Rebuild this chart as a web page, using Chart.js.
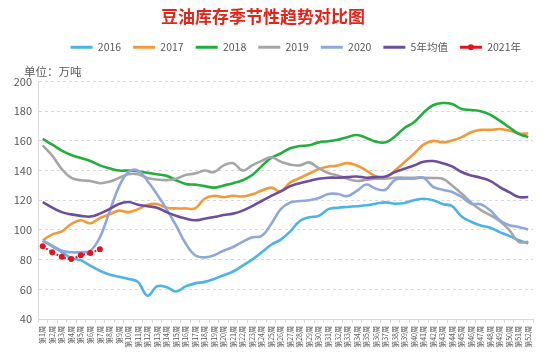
<!DOCTYPE html>
<html>
<head>
<meta charset="utf-8">
<script src="https://cdn.jsdelivr.net/npm/chart.js@4.4.1/dist/chart.umd.min.js"></script>
<style>
  html, body { margin: 0; padding: 0; background: #fff; }
  #wrap { width: 550px; height: 362px; position: relative; }
</style>
</head>
<body>
<div id="wrap"><canvas id="chart"></canvas></div>
<script>
const FONT = '"Noto Sans CJK SC", "Noto Sans", sans-serif';

const weeks = [
  "第1周", "第2周", "第3周", "第4周", "第5周", "第6周", "第7周", "第8周", "第9周", "第10周",
  "第11周", "第12周", "第13周", "第14周", "第15周", "第16周", "第17周", "第18周", "第19周", "第20周",
  "第21周", "第22周", "第23周", "第24周", "第25周", "第26周", "第27周", "第28周", "第29周", "第30周",
  "第31周", "第32周", "第33周", "第34周", "第35周", "第36周", "第37周", "第38周", "第39周", "第40周",
  "第41周", "第42周", "第43周", "第44周", "第45周", "第46周", "第47周", "第48周", "第49周", "第50周",
  "第51周", "第52周"
];

const y2016 = [
  92.8, 89, 85, 81, 79.5, 76, 72.5, 70, 68.5, 67,
  65, 55.7, 62, 61.5, 58.5, 62, 64, 65, 67, 69.5,
  72, 76, 80, 85, 90, 93.5, 99, 106, 108.5, 109.5,
  114, 115, 115.5, 116, 116.6, 117.7, 118.6, 117.7, 118.2, 120,
  121, 120, 117.5, 116, 109, 105.5, 103, 101.5, 98.5, 96,
  93, 91
];

const y2017 = [
  93, 97, 99, 104, 106.5, 104.5, 108, 110.5, 113, 112,
  114, 117, 117.5, 115, 114.5, 114.5, 114.5, 121, 123, 122,
  123, 122.5, 124, 126.5, 128.5, 126, 132, 135, 138, 141,
  142.8, 143.4, 145, 143.4, 140, 136, 135.2, 140, 145.7, 151.3,
  157.5, 160, 159, 160.2, 162.5, 165.8, 167.4, 167.4, 168, 167,
  165, 165
];

const y2018 = [
  161.3, 157.5, 153.5, 150.5, 148.5, 146.5, 143.5, 141.5, 140, 140,
  139.5, 138.5, 137.5, 136.5, 133.5, 131, 130.5, 129.5, 128.5, 130,
  131.5, 133.5, 137, 143, 148.5, 151.5, 155, 156.5, 157, 159,
  159.8, 160.7, 162.5, 164, 162, 159.5, 159, 163, 168.7, 172.5,
  179, 184, 185.5, 184.8, 181.5, 180.8, 180, 177.7, 173.6, 169.2,
  164.7, 162.5
];

const y2019 = [
  157, 150, 141, 135, 133.5, 133, 131.5, 132.5, 135, 137.5,
  137.5, 135, 134, 133.5, 134.5, 137, 138, 140, 139, 143.5,
  145, 140, 143.5, 146.5, 149, 146, 144, 143.5, 145.5, 141.5,
  138.3, 136.7, 134.5, 133, 133.8, 134.5, 134.5, 135.2, 135.2, 135.2,
  135.2, 135, 134.5, 130, 124.5, 118.5, 113.5, 110, 106, 100,
  92, 92
];

const y2020 = [
  92.8, 89.4, 86, 85, 85, 86, 95, 112, 129, 139,
  140, 133, 124, 114, 103, 91, 83, 81.5, 83, 86,
  88.5, 92, 95, 96, 104, 114, 118.5, 119.5, 120, 121.5,
  124.2, 124.2, 122.8, 126.3, 130.6, 127.7, 127.1, 133.8, 134.5, 134.5,
  135.2, 129, 127.1, 125.5, 122.2, 117.7, 117.3, 113.2, 106.5, 103.2,
  102, 100.3
];

const avg5 = [
  118.8, 115, 112, 110.5, 109.5, 109, 111, 114, 117.5, 118.8,
  117, 116, 115, 112, 109.5, 107.7, 106.5, 107.5, 108.7, 110,
  111, 113, 116, 119.5, 123, 126, 129.5, 131.5, 133, 134.5,
  135.2, 135.2, 135.6, 136, 135.2, 135.6, 136, 139, 141.2, 143.4,
  146, 146.4, 145, 142.8, 139, 136.7, 135.2, 133, 128.9, 125.5,
  122.2, 122.2
];

const y2021 = [89, 85, 82, 80.5, 83, 84.5, 87];

const seriesNames = ["2016", "2017", "2018", "2019", "2020", "5年均值", "2021年"];
const seriesColors = ["#4DB3E6", "#F29A38", "#22AE3C", "#A6A6A6", "#8EA8DA", "#6C4E9E", "#E3141E"];
const seriesData = [y2016, y2017, y2018, y2019, y2020, avg5, y2021];

const datasets = seriesData.map((data, i) => {
  const isNew = i === seriesData.length - 1;
  return {
    label: seriesNames[i],
    data: data,
    borderColor: seriesColors[i],
    backgroundColor: seriesColors[i],
    borderWidth: isNew ? 2 : 2.6,
    borderDash: isNew ? [2, 2] : [],
    pointRadius: isNew ? 3 : 0,
    pointBorderWidth: 0,
    pointBackgroundColor: seriesColors[i],
    tension: 0.4,
    fill: false,
    // later years drawn on top, like the spreadsheet
    order: seriesData.length - i
  };
});

// title, unit label and the marker on the 2021 legend line
const decorations = {
  id: "decorations",
  afterDraw(chart) {
    const ctx = chart.ctx;
    ctx.save();
    ctx.textBaseline = "middle";
    ctx.textAlign = "center";
    ctx.fillStyle = "#E0251B";
    ctx.font = "bold 17px " + FONT;
    ctx.fillText("豆油库存季节性趋势对比图", 263, 17);

    ctx.textAlign = "left";
    ctx.fillStyle = "#595959";
    ctx.font = "11.5px " + FONT;
    ctx.fillText("单位：万吨", 24, 72);

    const items = chart.legend.legendItems || [];
    const idx = items.findIndex((it) => it.datasetIndex === 6);
    const hb = chart.legend.legendHitBoxes[idx];
    if (hb) {
      ctx.fillStyle = seriesColors[6];
      ctx.beginPath();
      ctx.arc(hb.left + 11, hb.top + hb.height / 2, 3, 0, Math.PI * 2);
      ctx.fill();
    }
    ctx.restore();
  }
};

new Chart(document.getElementById("chart"), {
  type: "line",
  data: { labels: weeks, datasets: datasets },
  options: {
    responsive: true,
    maintainAspectRatio: false,
    animation: false,
    layout: { padding: { top: 30, right: 17, left: 0, bottom: 0 } },
    plugins: {
      title: { display: false },
      subtitle: {
        display: true,
        text: "",
        weight: 500,
        font: { size: 10 },
        padding: { top: 0, bottom: 7 }
      },
      legend: {
        position: "top",
        align: "end",
        labels: {
          color: "#595959",
          font: { size: 10.5, family: FONT },
          boxWidth: 22,
          boxHeight: 3,
          padding: 12,
          sort: (a, b) => a.datasetIndex - b.datasetIndex,
          generateLabels(chart) {
            const items = Chart.defaults.plugins.legend.labels.generateLabels(chart);
            items.forEach((it) => {
              it.lineWidth = 0;
              it.lineDash = [];
              it.fillStyle = it.strokeStyle;
            });
            return items;
          }
        }
      },
      tooltip: { enabled: false }
    },
    scales: {
      x: {
        offset: true,
        grid: {
          offset: true,
          drawOnChartArea: false,
          tickLength: 4,
          color: "#D9D9D9"
        },
        border: { color: "#D9D9D9" },
        ticks: {
          autoSkip: false,
          minRotation: 90,
          maxRotation: 90,
          padding: 3,
          color: "#595959",
          font: { size: 7, family: FONT }
        },
        afterFit(scale) { scale.height = 43; }
      },
      y: {
        min: 40,
        max: 200,
        ticks: {
          stepSize: 20,
          padding: 6,
          color: "#595959",
          font: { size: 11, family: FONT }
        },
        grid: { color: "#D9D9D9", drawTicks: false },
        border: { color: "#D9D9D9", dash: [3, 3] },
        afterFit(scale) { scale.width = 38; }
      }
    }
  },
  plugins: [decorations]
});
</script>
</body>
</html>
